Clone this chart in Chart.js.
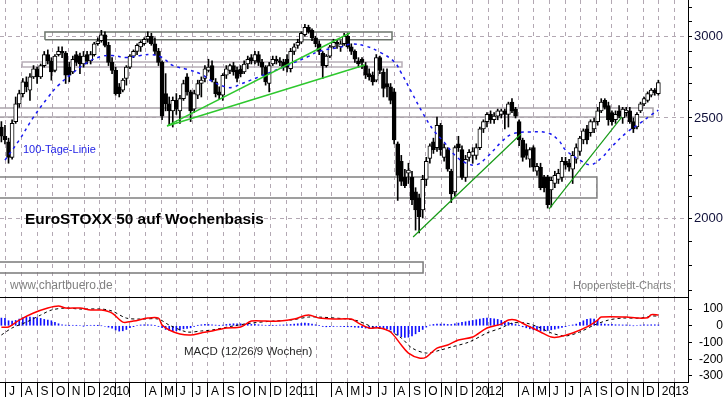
<!DOCTYPE html>
<html>
<head>
<meta charset="utf-8">
<title>EuroSTOXX 50 auf Wochenbasis</title>
<script src="https://cdn.jsdelivr.net/npm/chart.js@4.4.1/dist/chart.umd.min.js"></script>
<style>
    html, body { margin: 0; padding: 0; background: #fff; }
    #wrap { position: relative; width: 723px; height: 397px; overflow: hidden; }
    canvas { position: absolute; left: 0; }
    #kurs { top: 0; }
    #macd { top: 298px; }
</style>
</head>
<body>
<div id="wrap">
    <canvas id="kurs" width="723" height="298"></canvas>
    <canvas id="macd" width="723" height="99"></canvas>
</div>
<script>
// Wochenkerzen, Woche 0 = 22.06.2009 ... Woche 184 = 31.12.2012
const ersteWoche = Date.UTC(2009, 5, 22);

const eroeffnung = [
    2450,2400,2370,2290,2480,2580,2640,2710,2660,2740,
    2790,2740,2810,2880,2840,2780,2880,2900,2890,2800,
    2770,2880,2870,2820,2880,2840,2880,2950,2970,3010,
    2940,2830,2780,2680,2660,2730,2800,2870,2900,2930,
    2950,2980,3000,2950,2900,2830,2640,2580,2540,2600,
    2540,2610,2740,2650,2550,2630,2700,2730,2780,2810,
    2710,2650,2630,2750,2780,2810,2780,2790,2770,2820,
    2860,2840,2880,2830,2800,2700,2820,2850,2840,2830,
    2850,2790,2900,2940,2960,3010,3060,3040,2990,2950,
    2890,2810,2870,2930,2960,2930,2950,3000,2930,2900,
    2840,2850,2810,2760,2750,2720,2860,2770,2700,2680,
    2650,2360,2270,2190,2210,2190,2120,2090,2036,2180,
    2285,2370,2340,2460,2290,2330,2220,2120,2360,2330,
    2190,2290,2300,2300,2340,2440,2480,2520,2490,2510,
    2520,2540,2520,2590,2550,2480,2380,2330,2280,2340,
    2220,2240,2190,2190,2130,2160,2180,2190,2270,2260,
    2230,2280,2320,2380,2440,2420,2440,2480,2540,2600,
    2570,2530,2490,2540,2500,2530,2540,2480,2450,2540,
    2580,2600,2630,2660,2640
];
const hoch = [
    2480,2460,2390,2490,2620,2660,2730,2740,2760,2810,
    2800,2820,2900,2910,2860,2880,2930,2930,2900,2830,
    2870,2900,2890,2900,2900,2900,2960,2990,3040,3030,
    2960,2860,2800,2700,2730,2810,2880,2910,2950,2970,
    2990,3030,3020,2990,2920,2840,2760,2620,2620,2640,
    2630,2720,2760,2660,2660,2720,2740,2810,2850,2840,
    2730,2680,2760,2810,2820,2830,2800,2810,2840,2870,
    2880,2900,2900,2850,2810,2830,2870,2870,2860,2850,
    2880,2920,2950,2980,3030,3080,3075,3050,3000,2970,
    2900,2880,2940,2980,2980,2970,3020,3020,2950,2910,
    2860,2860,2830,2790,2770,2880,2870,2790,2790,2700,
    2670,2370,2300,2230,2260,2220,2140,2110,2200,2290,
    2360,2390,2505,2470,2360,2340,2230,2350,2400,2350,
    2300,2330,2340,2360,2450,2490,2530,2540,2530,2550,
    2550,2550,2590,2610,2560,2490,2390,2360,2340,2350,
    2260,2260,2200,2200,2190,2220,2230,2290,2290,2280,
    2320,2360,2400,2440,2460,2490,2500,2560,2610,2610,
    2590,2540,2540,2570,2560,2560,2560,2500,2530,2590,
    2620,2650,2670,2670,2720
];
const tief = [
    2370,2360,2260,2280,2470,2560,2620,2650,2600,2730,
    2700,2730,2800,2820,2720,2770,2870,2860,2700,2710,
    2760,2810,2760,2800,2820,2820,2870,2940,2960,2930,
    2810,2760,2630,2620,2650,2690,2790,2860,2880,2900,
    2940,2960,2940,2880,2810,2490,2540,2460,2450,2520,
    2470,2600,2630,2480,2530,2610,2620,2710,2770,2710,
    2620,2610,2600,2730,2760,2750,2710,2740,2760,2790,
    2820,2820,2810,2750,2690,2650,2810,2820,2810,2780,
    2770,2770,2880,2920,2950,3000,3020,2970,2930,2880,
    2730,2800,2860,2920,2920,2900,2940,2920,2880,2830,
    2800,2790,2730,2720,2690,2710,2760,2620,2620,2580,
    2360,2080,2150,2140,2160,2060,1947,1935,2000,2150,
    2260,2310,2320,2300,2270,2220,2070,2100,2320,2180,
    2170,2270,2260,2280,2330,2420,2450,2470,2470,2490,
    2500,2440,2450,2530,2500,2350,2270,2280,2240,2220,
    2200,2130,2120,2045,2050,2140,2160,2170,2230,2220,
    2160,2260,2300,2360,2360,2400,2420,2460,2530,2550,
    2460,2460,2470,2500,2470,2510,2470,2420,2440,2530,
    2570,2590,2620,2630,2630
];
const schluss = [
    2400,2380,2290,2470,2580,2640,2710,2680,2740,2790,
    2740,2810,2880,2840,2770,2870,2900,2890,2750,2750,
    2850,2830,2820,2870,2840,2880,2950,2970,3010,2940,
    2830,2780,2640,2640,2720,2800,2870,2900,2940,2960,
    2980,3000,2950,2900,2830,2510,2580,2540,2600,2550,
    2610,2700,2650,2540,2640,2700,2720,2790,2800,2720,
    2640,2630,2750,2790,2810,2770,2730,2760,2820,2850,
    2840,2880,2830,2800,2710,2810,2850,2840,2830,2800,
    2800,2900,2930,2960,3020,3060,3030,2990,2950,2900,
    2810,2870,2930,2960,2950,2950,3000,2930,2900,2850,
    2820,2830,2750,2740,2710,2860,2780,2670,2680,2600,
    2380,2200,2170,2150,2226,2082,2036,2005,2180,2270,
    2350,2330,2460,2330,2340,2230,2110,2340,2340,2190,
    2280,2316,2320,2340,2440,2480,2520,2490,2510,2540,
    2540,2520,2580,2540,2510,2380,2290,2300,2330,2240,
    2245,2140,2140,2060,2175,2200,2210,2270,2250,2240,
    2300,2340,2390,2430,2380,2480,2480,2540,2590,2560,
    2490,2480,2520,2510,2550,2545,2480,2440,2520,2580,
    2610,2640,2660,2645,2705
];

// 100-Tage-Linie (Woche / Wert)
const maWochen = [1, 5, 9, 13, 16, 20, 24, 28, 31, 35, 39, 42, 45, 48, 52, 56, 59, 63, 65, 67,
    72, 79, 86, 89, 95, 98, 102, 106, 110, 112, 115, 118, 121, 124, 127, 130, 133, 136, 140, 143,
    148, 153, 156, 158, 162, 165, 168, 171, 175, 179, 182, 184];
const maWerte = [2276, 2380, 2505, 2616, 2690, 2764, 2829, 2868, 2874, 2861, 2874, 2880, 2861, 2811, 2787, 2756, 2714, 2678, 2678, 2696,
    2739, 2801, 2868, 2901, 2928, 2948, 2935, 2895, 2835, 2764, 2643, 2528, 2433, 2369, 2301, 2262, 2252, 2291, 2369, 2412,
    2423, 2418, 2380, 2328, 2276, 2252, 2286, 2346, 2418, 2473, 2517, 2544];

// MACD (12/26/9)
const macdWochen = [0, 2, 5, 9, 13, 16, 18, 22, 25, 28, 31, 34, 37, 41, 44, 45, 47, 50, 53, 56,
    59, 63, 67, 70, 74, 78, 82, 86, 89, 93, 98, 100, 103, 106, 109, 112, 114, 117, 119, 122,
    125, 128, 132, 136, 140, 142, 144, 147, 151, 154, 156, 160, 164, 167, 168, 175, 178, 181, 182, 184];
const macdWerte = [-9, -7, 34, 76, 106, 118, 106, 106, 94, 94, 76, 22, 28, 46, 46, 4, -25, -49, -55, -43,
    -31, -13, -7, 28, 28, 28, 40, 64, 46, 40, 40, 16, -13, -13, -37, -115, -163, -193, -187, -133,
    -115, -85, -67, -13, 10, 34, 34, 4, -37, -67, -67, -43, -7, 34, 52, 52, 46, 48, 66, 64];
const signalWochen = [0, 3, 7, 11, 14, 18, 22, 28, 31, 35, 39, 44, 47, 52, 56, 59, 65, 70, 76, 81,
    86, 89, 97, 100, 104, 108, 112, 115, 119, 123, 126, 131, 136, 140, 143, 147, 151, 154, 158, 162,
    166, 170, 174, 179, 182, 184];
const signalWerte = [-55, -13, 22, 64, 94, 106, 100, 100, 88, 46, 40, 40, 4, -37, -31, -25, -1, 16, 28, 34,
    52, 52, 40, 28, -7, -25, -73, -133, -163, -145, -127, -97, -43, -13, 16, 16, -13, -43, -61, -37,
    4, 34, 46, 46, 58, 58];
const histogramm = [
    46, 44, 30, 28, 32, 40, 48, 50, 52, 50,
    48, 44, 38, 34, 30, 20, 12, 6, 4, 2,
    3, 2, 0, -1, 2, 3, 2, 1, 0, -3,
    -8, -15, -25, -32, -30, -22, -12, -5, 3, 5,
    6, 6, 5, 2, -4, -12, -22, -28, -32, -30,
    -26, -18, -16, -12, -4, 2, 6, 8, 8, 6,
    4, 2, 4, 8, 10, 12, 12, 12, 10, 10,
    8, 8, 6, 4, 3, 2, 2, 3, 4, 5,
    6, 8, 10, 12, 14, 16, 14, 10, 6, 2,
    -4, -6, -6, -4, -3, -4, -5, -6, -6, -8,
    -10, -12, -14, -16, -16, -12, -12, -15, -18, -25,
    -40, -55, -65, -70, -68, -60, -48, -35, -22, -8,
    4, 8, 10, 10, 10, 8, 8, 12, 16, 20,
    24, 28, 32, 36, 40, 44, 46, 44, 42, 38,
    32, 26, 20, 14, 8, 2, -6, -12, -18, -24,
    -28, -30, -30, -28, -24, -20, -15, -10, -5, 0,
    5, 10, 20, 30, 38, 42, 40, 34, 12, 10,
    8, 8, 6, 6, 5, 5, 4, 0, 0, 4,
    5, 5, 6, 6, 5
];

// Trendlinien: [Woche, Wert, Woche, Wert]
const trendlinien = [
    [46.4, 2456, 97.6, 3022],
    [46.4, 2456, 101.8, 2814],
    [115.3, 1917, 145.5, 2412],
    [153.4, 2041, 173.8, 2506]
];
// Zonen: [von Woche, bis Woche, unten, oben]
const zonen = [
    [12.2, 109.4, 2976, 3029],
    [5.8, 112.2, 2801, 2833],
    [-2, 182.5, 2506, 2557],
    [-2, 166.8, 2091, 2192],
    [-2, 118.1, 1769, 1813]
];

const kursTicks = [2000, 2500, 3000];
const kursHilfsTicks = [1700, 1800, 1900, 2000, 2100, 2200, 2300, 2400, 2500, 2600, 2700, 2800, 2900, 3000, 3100, 3200];
const macdTicks = [-300, -200, -100, 0, 100];
const monatsKuerzel = ['J', 'F', 'M', 'A', 'M', 'J', 'J', 'A', 'S', 'O', 'N', 'D'];

// ---- Darstellung ----
const WOCHE = 7 * 24 * 3600 * 1000;
const xMin = -0.39, xMax = 192.3;
const gitterFarbe = '#b3a8b3';
const trendFarben = ['#2ec82e', '#2ec82e', '#169a16', '#169a16'];
const zonenFarben = ['#6c746c', '#b8aeb8', '#aaa4aa', '#808080', '#7a7a7a'];

Chart.defaults.font.family = '"Liberation Sans", Arial, sans-serif';
Chart.defaults.font.size = 12;
Chart.defaults.color = '#000';

// Monatsanfaenge als Ticks, Feb/Mrz ohne Beschriftung
const monate = [];
const monatsLabels = [];
for (let j = 2009, m = 6; ; m++) {
    if (m === 12) { m = 0; j++; }
    const w = (Date.UTC(j, m, 1) - ersteWoche) / WOCHE;
    if (w > xMax) break;
    monate.push(w);
    monatsLabels.push(m === 0 ? String(j) : (m === 1 || m === 2) ? '' : monatsKuerzel[m]);
}

const beschriftung = {
    id: 'beschriftung',
    afterDatasetsDraw(chart, args, opts) {
        const ctx = chart.ctx;
        ctx.save();
        ctx.textBaseline = 'alphabetic';
        for (const t of opts.texte) {
            ctx.font = t.font;
            ctx.fillStyle = t.farbe;
            ctx.fillText(t.text, t.x, t.y);
        }
        ctx.restore();
    }
};

// feste Groessen, keine Zusatzraender durch Achsenbeschriftung
function festeGroesse(breite, hoehe) {
    return s => {
        if (breite !== null) s.width = breite;
        if (hoehe !== null) s.height = hoehe;
        s.paddingTop = 0;
        s.paddingBottom = 0;
        s.paddingLeft = 0;
        s.paddingRight = 0;
    };
}

function xAchse(mitLabels) {
    return {
        type: 'linear',
        min: xMin,
        max: xMax,
        bounds: 'data',
        offset: false,
        afterBuildTicks: s => { s.ticks = monate.map(v => ({ value: v })); },
        ticks: mitLabels ? {
            autoSkip: false, maxRotation: 0, minRotation: 0,
            align: 'start', labelOffset: 3, padding: -13,
            callback: (v, i) => monatsLabels[i]
        } : { display: false },
        grid: { color: gitterFarbe, offset: false, drawTicks: mitLabels, tickColor: '#000', tickLength: 15 },
        border: { display: true, color: '#000', width: 1, dash: [4, 4] },
        afterFit: festeGroesse(null, mitLabels ? 15 : 1)
    };
}

// ---- Kurschart ----
const kursDatasets = [
    {
        type: 'bar',
        data: schluss.map((c, i) => ({ x: i, y: [eroeffnung[i], c] })),
        backgroundColor: schluss.map((c, i) => c >= eroeffnung[i] ? '#fff' : '#000'),
        borderColor: '#000',
        borderWidth: 1,
        borderSkipped: false,
        barThickness: 4,
        grouped: false,
        order: 2
    },
    {
        type: 'bar',
        data: hoch.map((h, i) => ({ x: i, y: [tief[i], h] })),
        backgroundColor: '#000',
        barThickness: 1,
        grouped: false,
        order: 3
    },
    {
        type: 'line',
        data: maWochen.map((w, i) => ({ x: w, y: maWerte[i] })),
        borderColor: '#1818f0',
        borderWidth: 1.5,
        borderDash: [3, 4],
        pointRadius: 0,
        tension: 0.4,
        order: 1
    }
];
trendlinien.forEach((t, i) => kursDatasets.push({
    type: 'line',
    data: [{ x: t[0], y: t[1] }, { x: t[2], y: t[3] }],
    borderColor: trendFarben[i],
    borderWidth: i < 2 ? 1.5 : 1.2,
    pointRadius: 0,
    order: 0
}));
zonen.forEach((z, i) => kursDatasets.push({
    type: 'line',
    data: [{ x: z[0], y: z[2] }, { x: z[1], y: z[2] }, { x: z[1], y: z[3] }, { x: z[0], y: z[3] }, { x: z[0], y: z[2] }],
    borderColor: zonenFarben[i],
    borderWidth: 1.5,
    pointRadius: 0,
    tension: 0,
    order: 4
}));

new Chart(document.getElementById('kurs').getContext('2d'), {
    type: 'bar',
    data: { datasets: kursDatasets },
    plugins: [beschriftung],
    options: {
        responsive: false,
        animation: false,
        devicePixelRatio: 1,
        layout: { padding: 0 },
        plugins: {
            legend: { display: false },
            tooltip: { enabled: false },
            beschriftung: {
                texte: [
                    { text: '100-Tage-Linie', x: 23, y: 153, font: '11px "Liberation Sans", Arial', farbe: '#2323e6' },
                    { text: 'EuroSTOXX 50 auf Wochenbasis', x: 25, y: 224, font: 'bold 15.4px "Liberation Sans", Arial', farbe: '#000' },
                    { text: 'www.chartbuero.de', x: 10, y: 289, font: '12px "Liberation Sans", Arial', farbe: '#808080' },
                    { text: 'Hoppenstedt-Charts', x: 573, y: 289, font: '11px "Liberation Sans", Arial', farbe: '#808080' }
                ]
            }
        },
        scales: {
            x: xAchse(false),
            y: {
                type: 'logarithmic',
                position: 'right',
                min: 1677,
                max: 3252.6,
                bounds: 'data',
                afterBuildTicks: s => { s.ticks = kursHilfsTicks.map(v => ({ value: v })); },
                ticks: {
                    autoSkip: false,
                    padding: 3,
                    crossAlign: 'far',
                    font: { size: 13 },
                    color: '#10103a',
                    callback: v => kursTicks.includes(v) ? String(v) : ''
                },
                grid: {
                    color: c => kursTicks.includes(c.tick && c.tick.value) ? gitterFarbe : 'rgba(0,0,0,0)',
                    tickColor: '#000',
                    tickLength: 4
                },
                border: { display: true, color: '#000', dash: [4, 4] },
                afterFit: festeGroesse(35, null)
            }
        }
    }
});

// ---- MACD ----
new Chart(document.getElementById('macd').getContext('2d'), {
    type: 'bar',
    data: {
        datasets: [
            {
                type: 'line',
                data: macdWochen.map((w, i) => ({ x: w, y: macdWerte[i] })),
                borderColor: '#ff0000',
                borderWidth: 1.5,
                pointRadius: 0,
                tension: 0.3,
                order: 0
            },
            {
                type: 'line',
                data: signalWochen.map((w, i) => ({ x: w, y: signalWerte[i] })),
                borderColor: '#000',
                borderWidth: 1,
                borderDash: [3, 3],
                pointRadius: 0,
                tension: 0.3,
                order: 1
            },
            {
                type: 'bar',
                data: histogramm.map((h, i) => ({ x: i, y: h })),
                backgroundColor: '#1010ff',
                barThickness: 1,
                grouped: false,
                order: 2
            }
        ]
    },
    plugins: [beschriftung],
    options: {
        responsive: false,
        animation: false,
        devicePixelRatio: 1,
        layout: { padding: 0 },
        plugins: {
            legend: { display: false },
            tooltip: { enabled: false },
            beschriftung: {
                texte: [
                    { text: 'MACD (12/26/9 Wochen)', x: 184, y: 57, font: '11.5px "Liberation Sans", Arial', farbe: '#282828' }
                ]
            }
        },
        scales: {
            x: xAchse(true),
            y: {
                type: 'linear',
                position: 'right',
                min: -336,
                max: 166,
                bounds: 'data',
                afterBuildTicks: s => { s.ticks = macdTicks.map(v => ({ value: v })); },
                ticks: { padding: 3, crossAlign: 'far', callback: v => String(v) },
                grid: { drawOnChartArea: false, tickColor: '#000', tickLength: 4 },
                border: { display: true, color: '#000' },
                afterFit: festeGroesse(35, null)
            }
        }
    }
});
</script>
</body>
</html>
